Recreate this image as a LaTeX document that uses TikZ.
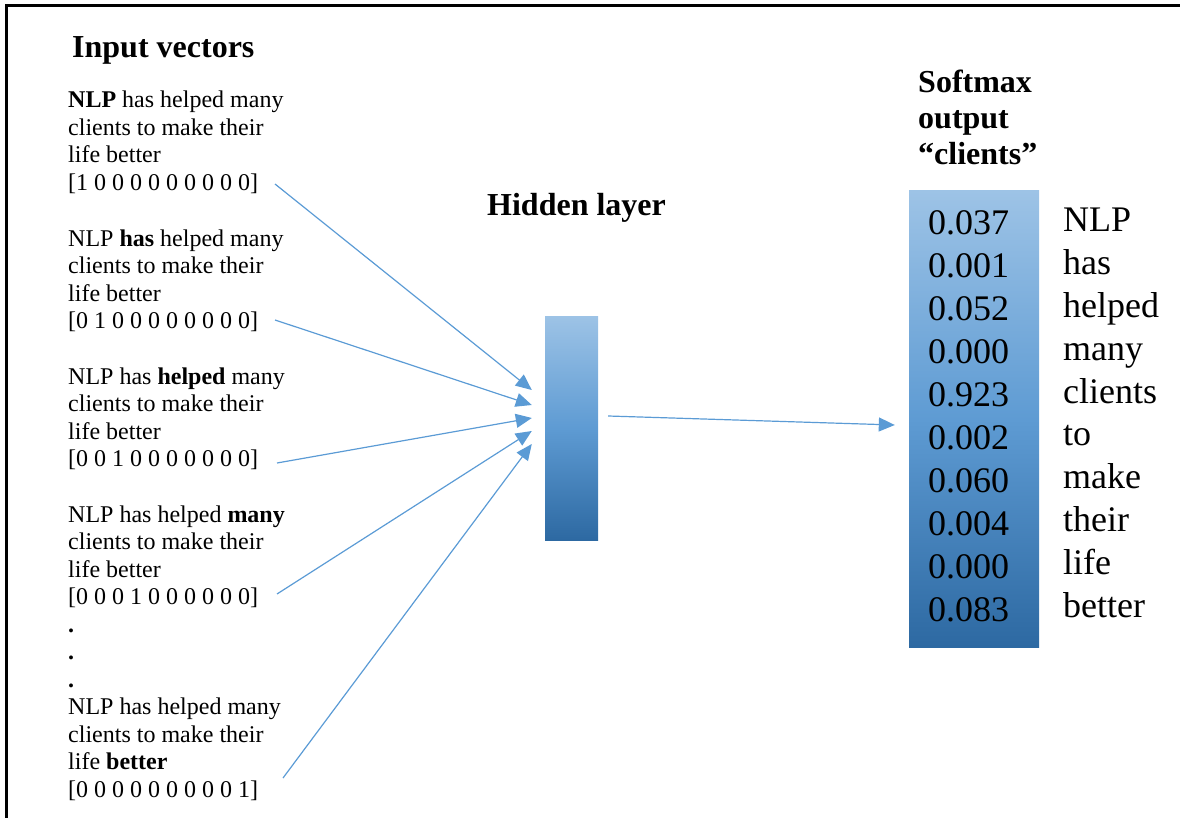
\documentclass[tikz,border=0pt]{standalone}
\usepackage{fontspec}
\setmainfont{Liberation Serif}
\usetikzlibrary{arrows.meta,calc}

\definecolor{linkblue}{HTML}{5B9BD5}
\definecolor{barlight}{HTML}{9DC3E6}
\definecolor{barmid}{HTML}{5E9BD3}
\definecolor{bardark}{HTML}{2D69A2}

\begin{document}
\begin{tikzpicture}[x=1pt,y=-1pt,
    sentence/.style={anchor=base west,inner sep=0pt,align=left,font=\fontsize{24}{27.5}\selectfont},
    heading/.style={anchor=base west,inner sep=0pt,align=left,font=\fontsize{32}{36}\selectfont\bfseries},
    bigtext/.style={anchor=base west,inner sep=0pt,align=left,font=\fontsize{36}{42.9}\selectfont},
    bar/.style={inner sep=0pt,top color=barlight,bottom color=bardark,middle color=barmid},
    link/.style={-{Triangle[length=16pt,width=14pt]},linkblue,line width=1.2pt}]
        \useasboundingbox (0,0) rectangle (1180,818);
        % frame
        \draw[line width=3pt] (6.5,818) -- (6.5,5.5) -- (1180,5.5);

        % headings (multi-line nodes sit on their last baseline)
        \node[heading] (inhead) at (72,58) {Input vectors};
        \node[heading] (hidhead) at (487,216) {Hidden layer};
        \node[heading] (outhead) at (918,165) {Softmax\\output\\“clients”};

        % input sentences
        \node[sentence] (vec1) at (68,190.5) {\textbf{NLP} has helped many\\clients to make their\\life better\\{[}1 0 0 0 0 0 0 0 0 0]};
        \node[sentence] (vec2) at (68,328.5) {NLP \textbf{has} helped many\\clients to make their\\life better\\{[}0 1 0 0 0 0 0 0 0 0]};
        \node[sentence] (vec3) at (68,466.5) {NLP has \textbf{helped} many\\clients to make their\\life better\\{[}0 0 1 0 0 0 0 0 0 0]};
        \node[sentence] (vec4) at (68,604.5) {NLP has helped \textbf{many}\\clients to make their\\life better\\{[}0 0 0 1 0 0 0 0 0 0]};
        \node[sentence,font=\fontsize{24}{27.5}\selectfont\bfseries] (gap) at (68,687) {.\\.\\.};
        \node[sentence] (vec5) at (68,797) {NLP has helped many\\clients to make their\\life \textbf{better}\\{[}0 0 0 0 0 0 0 0 0 1]};

        % layers
        \node[bar,minimum width=53pt,minimum height=224pt] (hidden) at (571.5,428) {};
        \node[bar,minimum width=130pt,minimum height=456pt] (softmax) at (974,419) {};
        \node[bigtext] (probs) at (928,621) {0.037\\0.001\\0.052\\0.000\\0.923\\0.002\\0.060\\0.004\\0.000\\0.083};
        \node[bigtext] (words) at (1063,617.5) {NLP\\has\\helped\\many\\clients\\to\\make\\their\\life\\better};

        % arrows
        \coordinate (s1) at (275,184);
        \coordinate (s2) at (275,320);
        \coordinate (s3) at (277,463);
        \coordinate (s4) at (277,594);
        \coordinate (s5) at (283,778);
        \draw[link] (s1) -- ($(hidden.west)+(-13,-38)$);
        \draw[link] (s2) -- ($(hidden.west)+(-13,-23)$);
        \draw[link] (s3) -- ($(hidden.west)+(-13,-10)$);
        \draw[link] (s4) -- ($(hidden.west)+(-13,3)$);
        \draw[link] (s5) -- ($(hidden.west)+(-13,16)$);
        \draw[link] ($(hidden.east)+(10,-12)$) -- ($(softmax.west)+(-14,6)$);
\end{tikzpicture}
\end{document}
